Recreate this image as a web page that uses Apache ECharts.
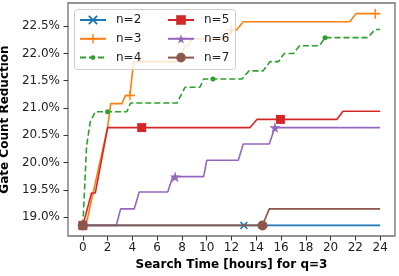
<!DOCTYPE html>
<html>
<head>
<meta charset="utf-8">
<script src="https://cdn.jsdelivr.net/npm/echarts@6/dist/echarts.min.js"></script>
<style>html,body{margin:0;padding:0;background:#fff}#c{width:399px;height:276px}</style>
</head>
<body>
<div id="c"></div>
<script>
// ---- data (hours, gate count reduction %) ----
const xTicks = [0, 2, 4, 6, 8, 10, 12, 14, 16, 18, 20, 22, 24];
const yTicks = [19.0, 19.5, 20.0, 20.5, 21.0, 21.5, 22.0, 22.5];

const n2_t = [0, 13.0, 24];
const n2_v = [18.846, 18.846, 18.846];
const n2_marks = [0, 13.0];

const n3_t = [0, 0.35, 2.0, 2.25, 3.15, 3.45, 3.8, 4.1, 7.7, 8.25, 8.5, 8.8, 11.6, 12.0, 12.4, 12.95, 21.55, 22.05, 23.6, 24];
const n3_v = [18.846, 18.95, 20.65, 21.08, 21.08, 21.23, 21.23, 21.85, 21.85, 22.14, 22.14, 22.27, 22.27, 22.43, 22.43, 22.58, 22.58, 22.73, 22.73, 22.73];
const n3_marks = [0, 3.8, 12.0, 23.6];

const n4_t = [0, 0.3, 0.6, 1.0, 2.0, 3.55, 3.85, 7.6, 8.25, 9.45, 9.75, 10.5, 12.85, 13.4, 14.55, 15.1, 15.8, 16.25, 17.0, 17.5, 19.1, 19.55, 23.0, 23.6, 24];
const n4_v = [18.846, 20.3, 20.75, 20.93, 20.93, 20.93, 21.09, 21.09, 21.38, 21.38, 21.53, 21.53, 21.53, 21.68, 21.68, 21.85, 21.85, 22.0, 22.0, 22.14, 22.14, 22.29, 22.29, 22.44, 22.44];
const n4_marks = [0, 2.0, 10.5, 19.55];

const n5_t = [0, 0.7, 1.0, 2.0, 4.75, 13.5, 14.05, 15.95, 20.5, 21.0, 24];
const n5_v = [18.846, 19.44, 19.44, 20.64, 20.64, 20.64, 20.79, 20.79, 20.79, 20.94, 20.94];
const n5_marks = [0, 4.75, 15.95];

const n6_t = [0, 2.7, 3.05, 4.15, 4.55, 6.85, 7.25, 7.45, 9.75, 10.0, 12.55, 12.95, 15.05, 15.5, 24];
const n6_v = [18.846, 18.846, 19.15, 19.15, 19.46, 19.46, 19.74, 19.74, 19.74, 20.04, 20.04, 20.34, 20.34, 20.64, 20.64];
const n6_marks = [0, 7.45, 15.5];

const n7_t = [0, 14.5, 15.05, 24];
const n7_v = [18.846, 18.846, 19.15, 19.15];
const n7_marks = [0, 14.5];

const names = ['n=2', 'n=3', 'n=4', 'n=5', 'n=6', 'n=7'];
const colors = ['#1f77b4', '#ff7f0e', '#2ca02c', '#d62728', '#9467bd', '#8c564b'];

const SYM_X = 'path://M0,1.4 L1.4,0 L5,3.6 L8.6,0 L10,1.4 L6.4,5 L10,8.6 L8.6,10 L5,6.4 L1.4,10 L0,8.6 L3.6,5 Z';
const SYM_PLUS = 'path://M4.3,0H5.7V4.3H10V5.7H5.7V10H4.3V5.7H0V4.3H4.3Z';
const SYM_STAR = 'path://M50,0 L61,35 L98,35 L68,57 L79,91 L50,70 L21,91 L32,57 L2,35 L39,35 Z';
// small dot centred in a 10x10 box (tiny corner specks keep the box size)
const SYM_DOT = 'path://M0,0L0.01,0L0,0.01Z M10,10L9.99,10L10,9.99Z M7.5,5 A2.5,2.5 0 1 1 2.5,5 A2.5,2.5 0 1 1 7.5,5 Z';

const symbols = [SYM_X, SYM_PLUS, SYM_DOT, 'rect', SYM_STAR, 'circle'];
const symSizes = [8, 10, 10, 9, 11, 10];
const dashes = ['solid', 'solid', [6, 3], 'solid', 'solid', 'solid'];

const allT = [n2_t, n3_t, n4_t, n5_t, n6_t, n7_t];
const allV = [n2_v, n3_v, n4_v, n5_v, n6_v, n7_v];
const allM = [n2_marks, n3_marks, n4_marks, n5_marks, n6_marks, n7_marks];

function build(i) {
  return allT[i].map((t, k) => {
    const item = { value: [t, allV[i][k]] };
    if (allM[i].indexOf(t) < 0) item.symbol = 'none';
    return item;
  });
}

const series = names.map((nm, i) => ({
  name: nm,
  type: 'line',
  data: build(i),
  symbol: symbols[i],
  symbolSize: symSizes[i],
  showSymbol: true,
  showAllSymbol: true,
  lineStyle: { color: colors[i], width: 1.6, type: dashes[i] },
  itemStyle: { color: colors[i], borderWidth: 0 },
  emphasis: { disabled: true },
  animation: false,
  z: 2 + i
}));

const FONT = 'DejaVu Sans';
const chart = echarts.init(document.getElementById('c'), null, { renderer: 'canvas' });
const legendBase = {
  orient: 'vertical', top: 14, itemWidth: 26, itemHeight: 12, itemGap: 6.8, padding: 0,
  textStyle: { fontSize: 12, fontFamily: FONT, color: '#222', padding: [0, 0, 0, 5] },
  z: 20, selectedMode: false
};
chart.setOption({
  animation: false,
  grid: { left: 68, right: 4, top: 3, bottom: 40, show: true, borderColor: '#707070', borderWidth: 1.3,
          backgroundColor: 'transparent', containLabel: false, outerBoundsMode: 'none' },
  xAxis: {
    type: 'value', min: -1.2, max: 25.2,
    name: 'Search Time [hours] for q=3', nameLocation: 'middle', nameGap: 22,
    nameTextStyle: { fontFamily: FONT, fontSize: 12, fontWeight: 'bold', color: '#000' },
    axisLine: { show: false, onZero: false },
    axisTick: { show: true, length: 4.5, customValues: xTicks, lineStyle: { color: '#333', width: 1 } },
    axisLabel: { customValues: xTicks, margin: 6, fontFamily: FONT, fontSize: 12, color: '#222', formatter: v => String(v) },
    splitLine: { show: false }
  },
  yAxis: {
    type: 'value', min: 18.652, max: 22.925,
    name: 'Gate Count Reduction', nameLocation: 'middle', nameGap: 53,
    nameTextStyle: { fontFamily: FONT, fontSize: 12, fontWeight: 'bold', color: '#000' },
    axisLine: { show: false, onZero: false },
    axisTick: { show: true, length: 4.5, customValues: yTicks, lineStyle: { color: '#333', width: 1 } },
    axisLabel: { customValues: yTicks, margin: 8, fontFamily: FONT, fontSize: 12, color: '#222', formatter: v => v.toFixed(1) + '%' },
    splitLine: { show: false }
  },
  legend: [
    Object.assign({}, legendBase, { data: ['n=2', 'n=3', 'n=4'], left: 79 }),
    Object.assign({}, legendBase, { data: ['n=5', 'n=6', 'n=7'], left: 167 })
  ],
  graphic: [{
    type: 'rect', left: 74, top: 9, z: 15,
    shape: { width: 161, height: 60, r: 3 },
    style: { fill: 'rgba(255,255,255,0.8)', stroke: '#cccccc', lineWidth: 1 }
  }],
  series: series
});
</script>
</body>
</html>
